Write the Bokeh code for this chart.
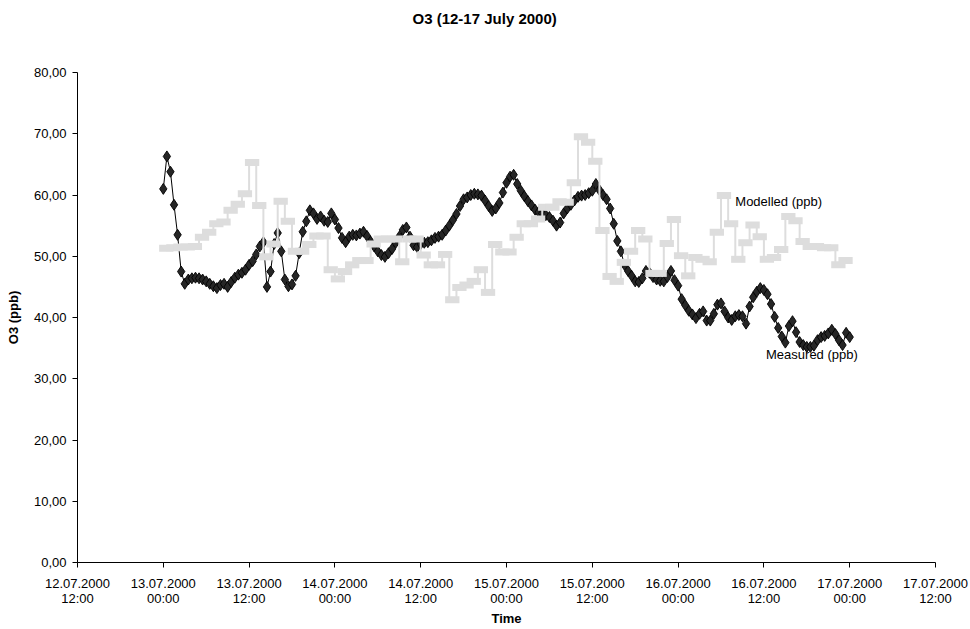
from bokeh.plotting import figure
from bokeh.models import FixedTicker, Label, Title
from bokeh.embed import file_html
from bokeh.resources import INLINE

title_text = "O3 (12-17 July 2000)"
x_title = "Time"
y_title = "O3 (ppb)"

x_tick_labels = [
    "12.07.2000\n12:00", "13.07.2000\n00:00", "13.07.2000\n12:00",
    "14.07.2000\n00:00", "14.07.2000\n12:00", "15.07.2000\n00:00",
    "15.07.2000\n12:00", "16.07.2000\n00:00", "16.07.2000\n12:00",
    "17.07.2000\n00:00", "17.07.2000\n12:00",
]
y_ticks = [0, 10, 20, 30, 40, 50, 60, 70, 80]

# Measured O3, every 30 min from 13.07.2000 00:00 to 17.07.2000 00:00
measured_ppb = [
    61.0, 66.3, 63.8, 58.4, 53.5, 47.5, 45.5, 46.2, 46.4, 46.5, 46.4, 46.2,
    45.9, 45.5, 45.1, 44.8, 45.3, 45.5, 45.0, 45.8, 46.5, 47.0, 47.3, 47.8,
    48.6, 49.2, 50.3, 51.6, 52.3, 45.0, 47.5, 52.0, 53.8, 50.8, 46.2, 45.1,
    45.4, 46.8, 50.5, 54.0, 55.7, 57.5, 57.0, 56.1, 56.5, 55.8, 55.6, 57.0,
    56.0, 54.6, 53.0, 52.3, 53.2, 53.5, 53.4, 53.7, 54.0, 53.3, 52.4, 51.6,
    50.8, 50.2, 49.9, 50.5, 51.2, 52.2, 53.2, 54.3, 54.7, 53.2, 51.8, 51.5,
    52.0, 52.2, 52.3, 52.6, 53.0, 53.2, 53.5, 54.2, 55.0, 55.9, 56.9, 58.2,
    59.3, 59.6, 60.0, 60.2, 60.1, 59.9, 59.1, 58.2, 57.4, 57.8, 58.7, 60.4,
    62.0, 63.0, 63.3, 61.8, 60.7, 59.8, 59.0, 58.3, 57.6, 57.2, 57.0, 56.7,
    56.4, 55.8, 55.0, 55.5, 57.0, 57.8, 58.4, 59.1, 59.7, 59.9, 60.0, 60.3,
    60.7, 61.8, 60.8, 60.0, 59.3, 57.8, 55.3, 52.5, 50.8, 48.6, 47.6, 46.8,
    45.9, 45.8, 46.4, 47.6, 47.3, 46.6, 46.2, 46.0, 45.9, 46.6, 47.6, 46.1,
    45.2, 43.0, 42.0, 41.1, 40.5, 39.9, 40.6, 41.0, 39.5, 39.5, 40.6, 42.1,
    42.3, 41.0, 40.0, 39.6, 40.2, 40.4, 40.2, 39.0, 41.8, 43.3, 44.2, 44.8,
    44.5, 43.8, 42.2, 40.1, 38.3, 36.9, 35.9, 38.6, 39.4, 37.6, 36.0, 35.5,
    35.2, 35.2, 35.4, 36.3, 36.8, 37.0, 37.4, 38.0, 37.3, 36.3, 35.5, 37.5,
    36.8,
]

# Modelled O3, hourly from 13.07.2000 00:00
modelled_ppb = [
    51.3, 51.4, 51.5, 51.5, 51.6, 53.1, 53.9, 55.3, 55.6, 57.5, 58.5, 60.2,
    65.3, 58.3, 49.9, 52.0, 59.0, 55.7, 50.8, 50.8, 51.9, 53.3, 53.3, 47.8,
    46.3, 47.5, 48.6, 49.3, 49.3, 52.0, 52.8, 52.8, 52.8, 49.1, 52.8, 52.8,
    50.2, 48.6, 48.6, 50.3, 42.9, 44.9, 45.3, 45.9, 47.8, 44.1, 51.9, 50.7,
    50.7, 53.1, 55.3, 55.3, 56.1, 58.0, 58.0, 58.9, 58.8, 62.0, 69.5, 68.6,
    65.5, 54.2, 46.7, 45.9, 49.0, 50.8, 54.2, 52.8, 47.2, 47.2, 52.1, 56.0,
    50.1, 46.8, 49.8, 49.5, 49.1, 53.9, 59.9, 55.3, 49.5, 52.2, 55.1, 53.2,
    49.5, 49.8, 51.1, 56.5, 55.8, 52.4, 51.6, 51.6, 51.4, 51.4, 48.6, 49.3,
]

FONT = "Liberation Sans"
MEAS_FILL = "#262626"
MOD_COL = "#DDDDDD"

measured_hours = [i * 0.5 for i in range(len(measured_ppb))]
modelled_hours = list(range(len(modelled_ppb)))
x_ticks = [-12 + 12 * i for i in range(len(x_tick_labels))]

p = figure(width=970, height=629, output_backend="svg", toolbar_location=None,
           title=None,
           x_range=(-12, 108), y_range=(0, 80),
           min_border_left=77, min_border_right=35,
           min_border_top=72, min_border_bottom=67)
p.outline_line_color = None
p.xgrid.grid_line_color = None
p.ygrid.grid_line_color = None
p.background_fill_color = "white"
p.border_fill_color = "white"

# Title (a blank spacer line between the title and the plot frame)
p.add_layout(Title(text=" ", text_font=FONT, text_font_size="40px", standoff=0), "above")
p.add_layout(Title(text=title_text, align="left", offset=335, standoff=0,
                   text_font=FONT, text_font_size="15px", text_font_style="bold",
                   text_color="black"), "above")

# Measured series
p.line(measured_hours, measured_ppb, line_color="black", line_width=1)
p.scatter(measured_hours, measured_ppb, marker="diamond", size=11,
          fill_color=MEAS_FILL, line_color="black", line_width=0.9)

# Modelled series (hourly steps)
step_x = modelled_hours + [modelled_hours[-1] + 5 / 6]
step_y = modelled_ppb + [modelled_ppb[-1]]
p.step(step_x, step_y, mode="after", line_color=MOD_COL, line_width=2)
p.rect(x=[h + 5 / 12 for h in modelled_hours], y=modelled_ppb,
       width=2.0, height=7, height_units="screen",
       fill_color=MOD_COL, line_color=None)

# Axes
p.xaxis.ticker = FixedTicker(ticks=x_ticks)
p.xaxis.major_label_overrides = {t: lab for t, lab in zip(x_ticks, x_tick_labels)}
p.yaxis.ticker = FixedTicker(ticks=y_ticks)
p.yaxis.major_label_overrides = {t: f"{t:.2f}".replace(".", ",") for t in y_ticks}
p.xaxis.axis_label = x_title
p.yaxis.axis_label = y_title
for ax in (p.xaxis[0], p.yaxis[0]):
    ax.major_tick_in = 0
    ax.major_tick_out = 5
    ax.minor_tick_line_color = None
    ax.axis_line_color = "black"
    ax.major_tick_line_color = "black"
    ax.major_label_text_font = FONT
    ax.major_label_text_font_size = "13px"
    ax.major_label_text_color = "black"
    ax.axis_label_text_font = FONT
    ax.axis_label_text_font_style = "bold"
    ax.axis_label_text_font_size = "13px"
    ax.axis_label_text_color = "black"
p.yaxis.major_label_standoff = 6
p.yaxis.axis_label_standoff = 10
p.xaxis.major_label_standoff = 8
p.xaxis.major_label_text_line_height = 1.0
p.xaxis.axis_label_standoff = 2

# Series labels
p.add_layout(Label(x=80.0, y=58.9, text="Modelled (ppb)", text_font=FONT,
                   text_font_size="13px", text_baseline="middle", text_color="black"))
p.add_layout(Label(x=84.3, y=33.9, text="Measured (ppb)", text_font=FONT,
                   text_font_size="13px", text_baseline="middle", text_color="black"))

open("out.html", "w").write(file_html(p, INLINE))
